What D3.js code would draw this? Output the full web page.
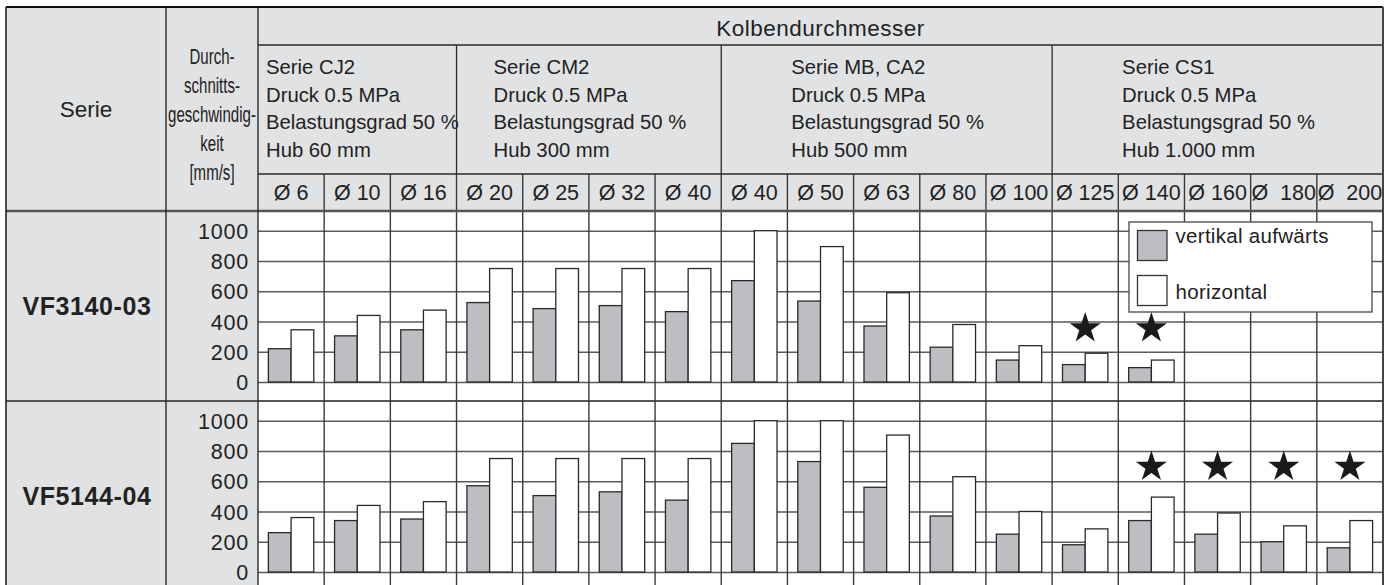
<!DOCTYPE html>
<html><head><meta charset="utf-8">
<script src="https://cdn.jsdelivr.net/npm/d3@7"></script>
<style>
body{margin:0;background:#fff;}
svg{display:block;font-family:"Liberation Sans",Arial,Helvetica,sans-serif;}
</style></head>
<body><svg id="c" width="1397" height="585"></svg>
<script>
// ---------- DATA ----------
const bores = ["Ø 6","Ø 10","Ø 16","Ø 20","Ø 25","Ø 32","Ø 40","Ø 40","Ø 50","Ø 63","Ø 80","Ø 100","Ø 125","Ø 140","Ø 160","Ø  180","Ø  200"];
const groupNames = ["Serie CJ2","Serie CM2","Serie MB, CA2","Serie CS1"];
const groupPressure = ["Druck 0.5 MPa","Druck 0.5 MPa","Druck 0.5 MPa","Druck 0.5 MPa"];
const groupLoad = ["Belastungsgrad 50 %","Belastungsgrad 50 %","Belastungsgrad 50 %","Belastungsgrad 50 %"];
const groupStroke = ["Hub 60 mm","Hub 300 mm","Hub 500 mm","Hub 1.000 mm"];
const groupSizes = [3,4,5,5];
const valveSeries = ["VF3140-03","VF5144-04"];
const seriesKeys = ["vertikal aufwärts","horizontal"];
const vf3140Vertical   = [220,305,345,525,485,505,465,670,535,370,230,145,115,95,null,null,null];
const vf3140Horizontal = [345,440,475,750,750,750,750,1000,895,590,380,240,190,145,null,null,null];
const vf5144Vertical   = [260,340,350,570,505,530,475,850,730,560,370,250,180,340,250,200,160];
const vf5144Horizontal = [360,440,465,750,750,750,750,1000,1000,905,630,400,285,495,390,305,340];
const vf3140Stars = [12,13];
const vf5144Stars = [13,14,15,16];
const starLevels = [355,695];
const yTicks = [0,200,400,600,800,1000];

// ---------- LAYOUT ----------
const L = {left:6, col1:166, col2:258, right:1383, top:7, h1:45, h2:174, h3:211, rowH:190};
const groupTextOffset = [8,37,70,70];
const headerBg = "#e1e2e4", barGray = "#bdbec1", lineDark = "#2a2a2a", gridCol = "#5a5a5a";

const svg = d3.select("#c");
const panels = [
  {name: valveSeries[0], v: vf3140Vertical, h: vf3140Horizontal, stars: vf3140Stars, starLevel: starLevels[0]},
  {name: valveSeries[1], v: vf5144Vertical, h: vf5144Horizontal, stars: vf5144Stars, starLevel: starLevels[1]}
];
const idx = bores.map((d,i)=>i);
const x = d3.scaleBand().domain(idx).range([L.col2, L.right]).padding(0);
const xs = d3.scaleBand().domain(seriesKeys).range([0, x.bandwidth()]).paddingInner(0).paddingOuter(0.458);
const bottom = L.h3 + 2*L.rowH;

// backgrounds
svg.append("rect").attr("x",L.left).attr("y",L.top).attr("width",L.right-L.left).attr("height",bottom-L.top).attr("fill","#fff");
svg.append("rect").attr("x",L.left).attr("y",L.top).attr("width",L.col2-L.left).attr("height",bottom-L.top).attr("fill",headerBg);
svg.append("rect").attr("x",L.col2).attr("y",L.top).attr("width",L.right-L.col2).attr("height",L.h3-L.top).attr("fill",headerBg);

// header texts
svg.append("text").attr("x",(L.left+L.col1)/2).attr("y",117).attr("text-anchor","middle")
  .attr("font-size",22.5).attr("fill","#222").text("Serie");
const durch = ["Durch-","schnitts-","geschwindig-","keit","[mm/s]"];
durch.forEach((t,i)=>{
  svg.append("text").attr("transform",`translate(${(L.col1+L.col2)/2},${64+i*29}) scale(0.7,1)`)
    .attr("text-anchor","middle").attr("font-size",21.5).attr("fill","#222").text(t);
});
svg.append("text").attr("x",(L.col2+L.right)/2).attr("y",36).attr("text-anchor","middle")
  .attr("font-size",22.5).attr("letter-spacing",0.5).attr("fill","#222").text("Kolbendurchmesser");

// groups
let start = 0;
const groupStarts = groupSizes.map(s=>{const r=start; start+=s; return r;});
groupNames.forEach((g,gi)=>{
  const gx = x(groupStarts[gi]);
  const lines = [g, groupPressure[gi], groupLoad[gi], groupStroke[gi]];
  lines.forEach((t,li)=>{
    svg.append("text").attr("x",gx+groupTextOffset[gi]).attr("y",74+li*27.5)
      .attr("font-size",20.3).attr("fill","#222").text(t);
  });
  if(gi>0){
    svg.append("line").attr("x1",gx).attr("x2",gx).attr("y1",L.h1).attr("y2",L.h2)
      .attr("stroke",lineDark).attr("stroke-width",1.3);
  }
});
// bore labels
svg.append("g").selectAll("text").data(idx).join("text")
  .attr("x",d=>x(d)+x.bandwidth()/2).attr("y",200).attr("text-anchor","middle")
  .attr("font-size",21.5).attr("fill","#222")
  .style("white-space","pre").attr("xml:space","preserve").text(d=>bores[d]);

// panels
panels.forEach((p,pi)=>{
  const top = L.h3 + pi*L.rowH;
  const y = d3.scaleLinear().domain([0,1000]).range([top+171, top+19.7]);
  // grid via axis
  const ax = svg.append("g").attr("transform",`translate(${L.col2},0)`)
    .call(d3.axisLeft(y).tickValues(yTicks).tickFormat(d3.format("d")).tickSize(-(L.right-L.col2)).tickPadding(9));
  ax.select(".domain").remove();
  ax.selectAll(".tick line").attr("stroke",gridCol).attr("stroke-width",1.4);
  ax.selectAll(".tick text").attr("font-size",21.5).attr("letter-spacing",0.8).attr("fill","#222")
    .attr("font-family","Liberation Sans, Arial, sans-serif").attr("dy","0.35em");
  // row label
  svg.append("text").attr("x",(L.left+L.col1)/2+1).attr("y",top+L.rowH/2+9).attr("text-anchor","middle")
    .attr("font-size",25).attr("font-weight","bold").attr("letter-spacing",0.6).attr("fill","#222").text(p.name);
  // bars
  const data = [];
  idx.forEach(i=>{
    if(p.v[i]!=null) data.push({i, k:seriesKeys[0], val:p.v[i]});
    if(p.h[i]!=null) data.push({i, k:seriesKeys[1], val:p.h[i]});
  });
  svg.append("g").selectAll("rect").data(data).join("rect")
    .attr("x",d=>x(d.i)+xs(d.k)).attr("width",xs.bandwidth())
    .attr("y",d=>y(d.val)).attr("height",d=>y(0)-y(d.val))
    .attr("fill",d=>d.k===seriesKeys[0]?barGray:"#fff")
    .attr("stroke",lineDark).attr("stroke-width",1.3);
  // stars
  svg.append("g").selectAll("path").data(p.stars).join("path")
    .attr("d",d3.symbol(d3.symbolStar,300))
    .attr("transform",d=>`translate(${x(d)+x.bandwidth()/2},${y(p.starLevel)})`)
    .attr("fill","#1a1a1a");
  // row bottom line
  svg.append("line").attr("x1",L.left).attr("x2",L.right).attr("y1",top+L.rowH).attr("y2",top+L.rowH)
    .attr("stroke","#555").attr("stroke-width",2.2);
});

// bore column lines
svg.append("g").selectAll("line").data(idx.slice(1)).join("line")
  .attr("x1",d=>x(d)).attr("x2",d=>x(d)).attr("y1",L.h2).attr("y2",bottom)
  .attr("stroke","#3a3a3a").attr("stroke-width",1.4);

// header horizontal lines
svg.append("line").attr("x1",L.col2).attr("x2",L.right).attr("y1",L.h1).attr("y2",L.h1).attr("stroke",lineDark).attr("stroke-width",1.3);
svg.append("line").attr("x1",L.col2).attr("x2",L.right).attr("y1",L.h2).attr("y2",L.h2).attr("stroke",lineDark).attr("stroke-width",1.3);
svg.append("line").attr("x1",L.left).attr("x2",L.right).attr("y1",L.h3).attr("y2",L.h3).attr("stroke","#555").attr("stroke-width",2.4);
// vertical column lines
[L.col1, L.col2].forEach(cx=>{
  svg.append("line").attr("x1",cx).attr("x2",cx).attr("y1",L.top).attr("y2",bottom).attr("stroke",lineDark).attr("stroke-width",1.4);
});
// frame
svg.append("line").attr("x1",L.left).attr("x2",L.right).attr("y1",L.top).attr("y2",L.top).attr("stroke","#111").attr("stroke-width",2.2);
svg.append("line").attr("x1",L.left).attr("x2",L.left).attr("y1",L.top).attr("y2",bottom).attr("stroke","#222").attr("stroke-width",1.6);
svg.append("line").attr("x1",L.right).attr("x2",L.right).attr("y1",L.top).attr("y2",bottom).attr("stroke","#444").attr("stroke-width",2);

// legend
const lg = svg.append("g").attr("transform","translate(1129,222)");
lg.append("rect").attr("width",243).attr("height",90).attr("fill","#fff").attr("stroke","#555").attr("stroke-width",1.4);
seriesKeys.forEach((k,i)=>{
  lg.append("rect").attr("x",8.5).attr("y",8.5+i*45).attr("width",29.5).attr("height",30)
    .attr("fill",i===0?barGray:"#fff").attr("stroke","#333").attr("stroke-width",1.3);
  lg.append("text").attr("x",46.5).attr("y",i===0?21:77).attr("font-size",20.5).attr("letter-spacing",0.3)
    .attr("fill","#222").text(k);
});
</script></body></html>
